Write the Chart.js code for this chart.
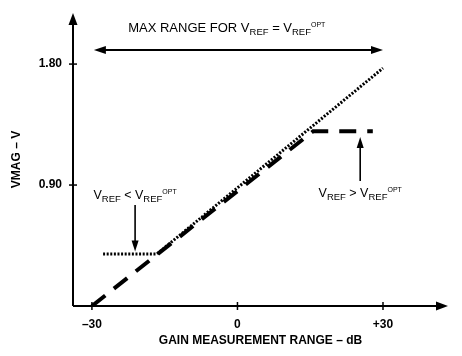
<!DOCTYPE html>
<html>
<head>
<meta charset="utf-8">
<script src="https://cdn.jsdelivr.net/npm/chart.js@4/dist/chart.umd.min.js"></script>
<style>
  html, body { margin: 0; padding: 0; background: #fff; }
  #wrap { width: 462px; height: 356px; }
</style>
</head>
<body>
<div id="wrap"><canvas id="c" width="462" height="356"></canvas></div>
<script>
// ---- data (dB, V) ----
const xTickValues = [-30, 0, 30];
const xTickLabels = ['\u201330', '0', '+30'];
const yTickValues = [0.90, 1.80];
const yTickLabels = ['0.90', '1.80'];

// V_REF > V_REF_OPT (dashed): rises then clips high
const aboveX = [-30, 15.6, 27.9];
const aboveY = [0.00, 1.30, 1.30];
// V_REF < V_REF_OPT (dotted): clipped low then rises
const belowX = [-27.7, -16.6, 30];
const belowY = [0.387, 0.387, 1.77];

const FONT = '"Liberation Sans", Arial, Helvetica, sans-serif';

function pts(xs, ys) { return xs.map((x, i) => ({ x: x, y: ys[i] })); }

function drawRich(ctx, cx, baseY, segs) {
  let total = 0;
  segs.forEach(s => { ctx.font = s.size + 'px ' + FONT; s.w = ctx.measureText(s.t).width; total += s.w; });
  let x = cx - total / 2;
  ctx.textBaseline = 'alphabetic';
  ctx.textAlign = 'left';
  segs.forEach(s => { ctx.font = s.size + 'px ' + FONT; ctx.fillText(s.t, x, baseY + (s.dy || 0)); x += s.w; });
}

function arrowHead(ctx, tx, ty, dir, len, half) {
  const [dx, dy] = dir;
  const bx = tx - dx * len, by = ty - dy * len;
  ctx.beginPath();
  ctx.moveTo(tx, ty);
  ctx.lineTo(bx - dy * half, by + dx * half);
  ctx.lineTo(bx + dy * half, by - dx * half);
  ctx.closePath();
  ctx.fill();
}

const decor = {
  id: 'decor',
  afterDraw(chart) {
    const ctx = chart.ctx, a = chart.chartArea;
    const xs = chart.scales.x, ys = chart.scales.y;
    ctx.save();
    ctx.strokeStyle = '#000'; ctx.fillStyle = '#000';
    // axes with arrows
    ctx.lineWidth = 2;
    ctx.beginPath(); ctx.moveTo(a.left, a.bottom); ctx.lineTo(a.left, a.top + 8); ctx.stroke();
    arrowHead(ctx, a.left, a.top, [0, -1], 12, 4.5);
    ctx.beginPath(); ctx.moveTo(a.left, a.bottom); ctx.lineTo(a.right - 8, a.bottom); ctx.stroke();
    arrowHead(ctx, a.right, a.bottom, [1, 0], 12, 4.5);
    // tick marks crossing the axes
    ctx.lineWidth = 1.5;
    yTickValues.forEach(v => { const y = ys.getPixelForValue(v); ctx.beginPath(); ctx.moveTo(a.left - 4, y); ctx.lineTo(a.left + 4, y); ctx.stroke(); });
    xTickValues.forEach(v => { const x = xs.getPixelForValue(v); ctx.beginPath(); ctx.moveTo(x, a.bottom - 4); ctx.lineTo(x, a.bottom + 4); ctx.stroke(); });

    // top title
    drawRich(ctx, xs.getPixelForValue(-2.2), ys.getPixelForValue(2.039), [
      { t: 'MAX RANGE FOR V', size: 13 },
      { t: 'REF', size: 9.5, dy: 3 },
      { t: ' = V', size: 13 },
      { t: 'REF', size: 9.5, dy: 3 },
      { t: 'OPT', size: 7, dy: -5 }
    ]);
    // double arrow
    const dy0 = ys.getPixelForValue(1.905);
    const dx0 = xs.getPixelForValue(-29.6), dx1 = xs.getPixelForValue(30);
    ctx.lineWidth = 2;
    ctx.beginPath(); ctx.moveTo(dx0 + 8, dy0); ctx.lineTo(dx1 - 8, dy0); ctx.stroke();
    arrowHead(ctx, dx0, dy0, [-1, 0], 12, 4);
    arrowHead(ctx, dx1, dy0, [1, 0], 12, 4);

    // left annotation
    const lx = xs.getPixelForValue(-21.1);
    drawRich(ctx, lx, ys.getPixelForValue(0.796), [
      { t: 'V', size: 12.5 }, { t: 'REF', size: 9.5, dy: 3 }, { t: ' < V', size: 12.5 },
      { t: 'REF', size: 9.5, dy: 3 }, { t: 'OPT', size: 7, dy: -5 }
    ]);
    ctx.lineWidth = 1.6;
    const lt = ys.getPixelForValue(0.405);
    ctx.beginPath(); ctx.moveTo(lx, ys.getPixelForValue(0.752)); ctx.lineTo(lx, lt - 8); ctx.stroke();
    arrowHead(ctx, lx, lt, [0, 1], 11, 3.5);

    // right annotation
    const rx = xs.getPixelForValue(25.3);
    drawRich(ctx, rx, ys.getPixelForValue(0.811), [
      { t: 'V', size: 12.5 }, { t: 'REF', size: 9.5, dy: 3 }, { t: ' > V', size: 12.5 },
      { t: 'REF', size: 9.5, dy: 3 }, { t: 'OPT', size: 7, dy: -5 }
    ]);
    const rt = ys.getPixelForValue(1.257);
    ctx.beginPath(); ctx.moveTo(rx, ys.getPixelForValue(0.930)); ctx.lineTo(rx, rt + 8); ctx.stroke();
    arrowHead(ctx, rx, rt, [0, -1], 11, 3.5);
    ctx.restore();
  }
};

new Chart(document.getElementById('c'), {
  type: 'line',
  data: {
    datasets: [
      { label: 'VREF > VREF OPT', data: pts(aboveX, aboveY), borderColor: '#000', borderWidth: 4,
        borderDash: [17, 11], borderCapStyle: 'butt', pointRadius: 0, tension: 0, fill: false },
      { label: 'VREF < VREF OPT', data: pts(belowX, belowY), borderColor: '#000', borderWidth: 3,
        borderDash: [2, 1.6], borderCapStyle: 'butt', pointRadius: 0, tension: 0, fill: false }
    ]
  },
  options: {
    responsive: false,
    animation: false,
    events: [],
    layout: { padding: { left: 0, right: 14, top: 13, bottom: 0 } },
    plugins: { legend: { display: false }, tooltip: { enabled: false } },
    scales: {
      x: {
        type: 'linear', min: -33.9, max: 43.4,
        afterFit: s => { s.height = 50; s.paddingLeft = 0; s.paddingRight = 0; },
        afterBuildTicks: s => { s.ticks = xTickValues.map(v => ({ value: v })); },
        grid: { display: false, drawTicks: false },
        border: { display: false },
        ticks: { padding: 11, color: '#000', font: { family: FONT, size: 12, weight: 'bold' },
          maxRotation: 0, autoSkip: false,
          callback: v => xTickLabels[xTickValues.indexOf(v)] },
        title: { display: true, text: 'GAIN MEASUREMENT RANGE \u2013 dB', color: '#000',
          font: { family: FONT, size: 12, weight: 'bold' }, padding: { top: 0, bottom: 8 } }
      },
      y: {
        type: 'linear', min: 0, max: 2.18,
        afterFit: s => { s.width = 73; s.paddingTop = 0; s.paddingBottom = 0; },
        afterBuildTicks: s => { s.ticks = yTickValues.map(v => ({ value: v })); },
        grid: { display: false, drawTicks: false },
        border: { display: false },
        ticks: { padding: 11, color: '#000', font: { family: FONT, size: 12, weight: 'bold' },
          autoSkip: false,
          callback: v => yTickLabels[yTickValues.indexOf(v)] },
        title: { display: true, text: 'VMAG \u2013 V', color: '#000',
          font: { family: FONT, size: 12, weight: 'bold' }, padding: { top: 9, bottom: 0 } }
      }
    }
  },
  plugins: [decor]
});
</script>
</body>
</html>
